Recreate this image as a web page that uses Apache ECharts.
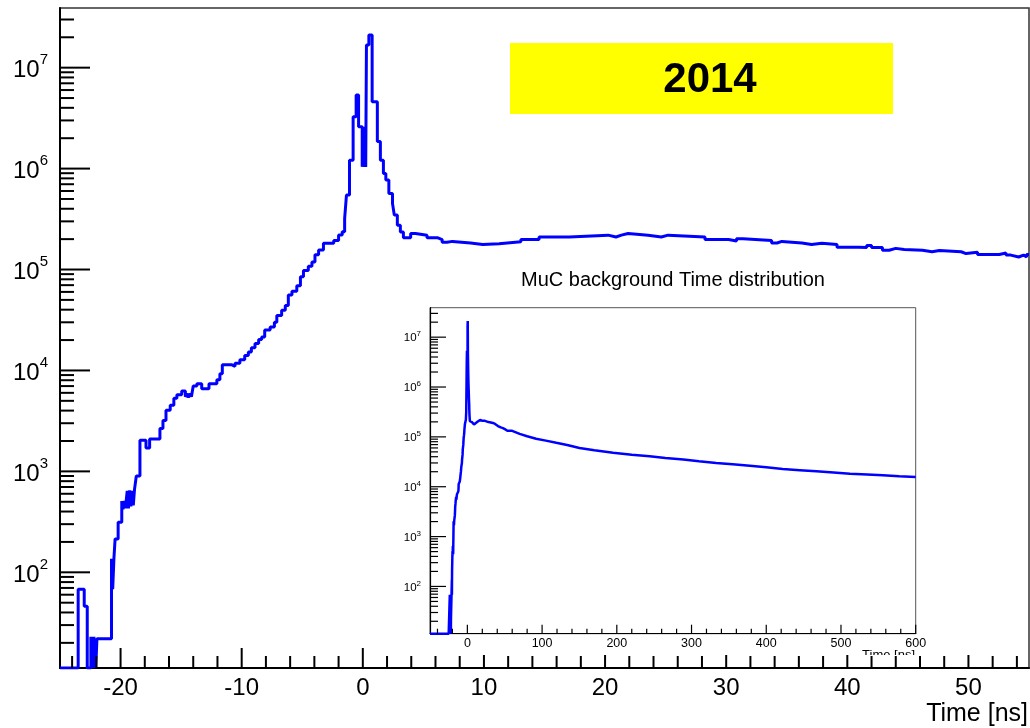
<!DOCTYPE html>
<html>
<head>
<meta charset="utf-8">
<script src="https://cdn.jsdelivr.net/npm/echarts@6/dist/echarts.min.js"></script>
<style>
  html, body { margin: 0; padding: 0; background: #fff; }
  #chart { width: 1030px; height: 728px; }
</style>
</head>
<body>
<div id="chart"></div>
<script>
// MuC background time distribution: zoom on [-25, 55] ns with a full-range inset.

// Histogram bins of the zoomed view: bin start [ns] and counts (0 = empty bin)
const mainBinStart = [
  -25.00, -23.50, -23.00, -22.75, -22.45, -22.30, -22.20, -22.05, -21.95, -20.75,
  -20.65, -20.55, -20.45, -20.20, -19.90, -19.80, -19.70, -19.60, -19.45, -19.35,
  -19.25, -19.15, -19.05, -18.95, -18.85, -18.70, -18.40, -17.90, -17.60, -16.75,
  -16.50, -16.25, -15.90, -15.60, -15.35, -14.95, -14.65, -14.50, -14.40, -14.25,
  -14.15, -14.00, -13.70, -13.30, -12.70, -12.05, -11.80, -11.60, -10.85, -10.55,
  -10.15, -9.75, -9.45, -9.20, -8.90, -8.60, -8.35, -8.10, -7.65, -7.30,
  -7.10, -6.70, -6.40, -6.15, -5.85, -5.45, -5.15, -4.90, -4.50, -4.20,
  -3.95, -3.65, -3.25, -2.40, -2.00, -1.70, -1.50, -1.35, -1.10, -0.80,
  -0.55, -0.35, -0.05, 0.03, 0.10, 0.18, 0.24, 0.30, 0.50, 0.77,
  1.20, 1.45, 1.70, 1.90, 2.15, 2.45, 2.60, 2.85, 3.10, 3.35,
  3.95, 4.35, 5.30, 6.15, 6.55, 6.95, 7.40, 8.90, 9.90, 11.25,
  13.05, 14.55, 17.05, 20.25, 20.90, 21.35, 21.90, 23.55, 24.65, 25.20,
  28.25, 30.20, 30.85, 31.40, 33.75, 34.20, 34.60, 36.25, 37.05, 37.90,
  39.15, 40.95, 41.60, 42.00, 42.90, 43.45, 44.00, 44.70, 46.20, 47.00,
  47.60, 49.40, 49.80, 50.75, 52.55, 53.10, 53.50, 54.15, 54.55, 54.80
];
const mainBinCount = [
  0, 68, 46, 0, 23, 0, 23, 0, 22, 136,
  68, 136, 214, 313, 510, 420, 510, 430, 640, 430,
  650, 450, 640, 460, 660, 900, 2030, 1700, 2090, 2660,
  3200, 4030, 4520, 5300, 5750, 6250, 5500, 5900, 5400, 5900,
  5500, 7000, 7400, 6600, 7400, 8100, 9300, 11400, 11000, 11800,
  12800, 14100, 15200, 16800, 18500, 20300, 21500, 25200, 27000, 30000,
  35000, 39500, 44000, 56000, 61000, 69000, 85000, 98000, 108000, 119000,
  140000, 156000, 182000, 194000, 220000, 237000, 320000, 546000, 1210000, 3270000,
  5360000, 2600000, 1040000, 2600000, 1040000, 2400000, 1040000, 16800000, 21100000, 4600000,
  1850000, 1210000, 896000, 770000, 568000, 452000, 346000, 275000, 236000, 207000,
  227000, 219000, 207000, 198000, 186000, 190000, 183000, 177000, 180000, 188000,
  198000, 210000, 219000, 210000, 219000, 227000, 219000, 210000, 219000, 210000,
  198000, 192000, 202000, 194000, 183000, 190000, 183000, 177000, 182000, 177000,
  166000, 165000, 173000, 165000, 155000, 162000, 158000, 155000, 150000, 154000,
  150000, 144000, 148000, 141000, 146000, 139000, 133000, 139000, 133000, 141000
];

// Long tail of the full distribution beyond 55 ns
const tailTime = [60, 70, 80, 92, 105, 119, 135, 150, 170, 195, 220, 244, 265, 289,
  310, 333, 355, 378, 400, 422, 445, 467, 490, 512, 535, 556, 578, 600];
const tailCount = [132000, 115000, 103000, 92000, 84000, 76000, 68000, 60000, 54000,
  48000, 44000, 41000, 37500, 35000, 32500, 30000, 28200, 26400, 24500, 22700,
  21500, 20400, 19300, 18300, 17600, 17000, 16300, 15700];

// Axis ranges and tick values
const Y_MIN = 11.27, Y_MAX = 3.9e7;
const mainXRange = [-25, 55];
const insetXRange = [-50, 600];
const mainXMajor = [-20, -10, 0, 10, 20, 30, 40, 50];
const mainXMinor = [-24, -22, -18, -16, -14, -12, -8, -6, -4, -2, 2, 4, 6, 8, 12, 14, 16, 18,
  22, 24, 26, 28, 32, 34, 36, 38, 42, 44, 46, 48, 52, 54];
const insetXMajor = [0, 100, 200, 300, 400, 500, 600];
const insetXMinor = [-40, -20, 20, 40, 60, 80, 120, 140, 160, 180, 220, 240, 260, 280,
  320, 340, 360, 380, 420, 440, 460, 480, 520, 540, 560, 580];
const yMajor = [1e2, 1e3, 1e4, 1e5, 1e6, 1e7];
const yMinor = [];
for (let d = 10; d <= 1e7; d *= 10) {
  for (let m = 2; m <= 9; m++) {
    const v = m * d;
    if (v > Y_MIN && v < Y_MAX) yMinor.push(v);
  }
}

// Layout (pixels)
const FONT = '"Liberation Sans", Arial, Helvetica, sans-serif';
const MAIN = { left: 60, top: 8, width: 969, height: 660 };
const INSET = { left: 430, top: 307.7, width: 485.7, height: 326 };
const PAD = { left: 372, right: 1024, bottom: 655 };   // inset pad covers the upper part of the main ticks
const BLUE = '#0000ff';

// Empty bins sit on the bottom of the frame
const floorCount = c => Math.max(c, Y_MIN);

const mainData = mainBinStart.map((t, i) => [t, floorCount(mainBinCount[i])]);
mainData.push([mainXRange[1], floorCount(mainBinCount[mainBinCount.length - 1])]);

const insetData = [[insetXRange[0], Y_MIN]]
  .concat(mainBinStart.map((t, i) => [t, floorCount(mainBinCount[i])]))
  .concat(tailTime.map((t, i) => [t, tailCount[i]]));

function xTickSeries(idx, values, len, width, yRef, padClip) {
  return {
    type: 'custom', xAxisIndex: idx, yAxisIndex: idx, z: 100, silent: true, clip: false,
    data: values.map(v => [v, yRef]),
    renderItem(params, api) {
      const cs = params.coordSys;
      const x = api.coord([api.value(0), yRef])[0];
      const y0 = cs.y + cs.height;
      let l = len;
      if (padClip && x > PAD.left && x < PAD.right) l = Math.min(l, y0 - PAD.bottom);
      return { type: 'line', shape: { x1: x, y1: y0, x2: x, y2: y0 - l },
        style: { stroke: '#000', lineWidth: width } };
    }
  };
}
function yTickSeries(idx, values, len, width, xRef) {
  return {
    type: 'custom', xAxisIndex: idx, yAxisIndex: idx, z: 100, silent: true, clip: false,
    data: values.map(v => [xRef, v]),
    renderItem(params, api) {
      const cs = params.coordSys;
      const y = api.coord([xRef, api.value(1)])[1];
      return { type: 'line', shape: { x1: cs.x, y1: y, x2: cs.x + len, y2: y },
        style: { stroke: '#000', lineWidth: width } };
    }
  };
}
function powLabel(v) {
  return '{b|10}{s|' + Math.round(Math.log10(v)) + '}';
}

const chart = echarts.init(document.getElementById('chart'), null, { renderer: 'canvas' });
chart.setOption({
  animation: false,
  backgroundColor: '#fff',
  grid: [
    Object.assign({ show: true, borderColor: '#333', borderWidth: 1.5, containLabel: false, outerBoundsMode: 'none' }, MAIN),
    Object.assign({ show: true, borderColor: '#555', borderWidth: 1, containLabel: false, outerBoundsMode: 'none' }, INSET)
  ],
  xAxis: [
    {
      gridIndex: 0, type: 'value', min: mainXRange[0], max: mainXRange[1],
      axisLine: { show: true, onZero: false, lineStyle: { color: '#000', width: 2 } },
      axisTick: { show: false }, splitLine: { show: false },
      axisLabel: { customValues: mainXMajor, fontSize: 24, fontFamily: FONT, color: '#000', margin: 8 }
    },
    {
      gridIndex: 1, type: 'value', min: insetXRange[0], max: insetXRange[1],
      axisLine: { show: true, onZero: false, lineStyle: { color: '#000', width: 1.2 } },
      axisTick: { show: false }, splitLine: { show: false },
      axisLabel: { customValues: insetXMajor, fontSize: 12.5, fontFamily: FONT, color: '#000', margin: 3 }
    }
  ],
  yAxis: [
    {
      gridIndex: 0, type: 'log', logBase: 10, min: Y_MIN, max: Y_MAX,
      axisLine: { show: true, onZero: false, lineStyle: { color: '#000', width: 2 } },
      axisTick: { show: false }, splitLine: { show: false }, minorTick: { show: false },
      axisLabel: {
        showMinLabel: false, showMaxLabel: false, margin: 12, formatter: powLabel,
        rich: {
          b: { fontSize: 24, fontFamily: FONT, color: '#000', lineHeight: 30, verticalAlign: 'bottom' },
          s: { fontSize: 15, fontFamily: FONT, color: '#000', lineHeight: 16, verticalAlign: 'top' }
        }
      }
    },
    {
      gridIndex: 1, type: 'log', logBase: 10, min: Y_MIN, max: Y_MAX,
      axisLine: { show: true, onZero: false, lineStyle: { color: '#000', width: 1.2 } },
      axisTick: { show: false }, splitLine: { show: false }, minorTick: { show: false },
      axisLabel: {
        showMinLabel: false, showMaxLabel: false, margin: 9, formatter: powLabel,
        rich: {
          b: { fontSize: 11.5, fontFamily: FONT, color: '#000', lineHeight: 14, verticalAlign: 'bottom' },
          s: { fontSize: 8, fontFamily: FONT, color: '#000', lineHeight: 8, verticalAlign: 'top' }
        }
      }
    }
  ],
  series: [
    {
      name: 'zoom', type: 'line', xAxisIndex: 0, yAxisIndex: 0, step: 'end', data: mainData,
      showSymbol: false, symbol: 'none', clip: true, z: 5,
      lineStyle: { color: BLUE, width: 3 }
    },
    {
      name: 'full range', type: 'line', xAxisIndex: 1, yAxisIndex: 1, data: insetData,
      showSymbol: false, symbol: 'none', clip: true, z: 5,
      lineStyle: { color: BLUE, width: 2.5 }
    },
    xTickSeries(0, mainXMajor, 20, 2, Y_MIN, true),
    xTickSeries(0, mainXMinor, 12, 2, Y_MIN, true),
    yTickSeries(0, yMajor, 30, 2, mainXRange[0]),
    yTickSeries(0, yMinor, 14, 2, mainXRange[0]),
    xTickSeries(1, insetXMajor, 9, 1.2, Y_MIN, false),
    xTickSeries(1, insetXMinor, 5, 1.2, Y_MIN, false),
    yTickSeries(1, yMajor, 16, 1.2, insetXRange[0]),
    yTickSeries(1, yMinor, 8, 1.2, insetXRange[0])
  ],
  graphic: [
    { type: 'rect', z: 10, shape: { x: 510, y: 43, width: 383, height: 71 }, style: { fill: '#ffff00' } },
    { type: 'text', z: 11, x: 710, y: 80,
      style: { text: '2014', font: 'bold 42px ' + FONT, fill: '#000',
        textAlign: 'center', align: 'center', textVerticalAlign: 'middle', verticalAlign: 'middle' } },
    { type: 'text', z: 11, x: 673, y: 280,
      style: { text: 'MuC background Time distribution', font: '20px ' + FONT, fill: '#000',
        textAlign: 'center', align: 'center', textVerticalAlign: 'middle', verticalAlign: 'middle' } },
    { type: 'text', z: 11, x: 1028, y: 714,
      style: { text: 'Time [ns]', font: '25px ' + FONT, fill: '#000',
        textAlign: 'right', align: 'right', textVerticalAlign: 'middle', verticalAlign: 'middle' } },
    // inset axis title, cut off by the bottom of the inset pad
    { type: 'text', z: 50, x: 915, y: 649,
      style: { text: 'Time [ns]', font: '13px ' + FONT, fill: '#000',
        textAlign: 'right', align: 'right', textVerticalAlign: 'top', verticalAlign: 'top' } },
    { type: 'rect', z: 60, shape: { x: 850, y: PAD.bottom, width: 75, height: 11.5 }, style: { fill: '#fff' } }
  ]
});
</script>
</body>
</html>
